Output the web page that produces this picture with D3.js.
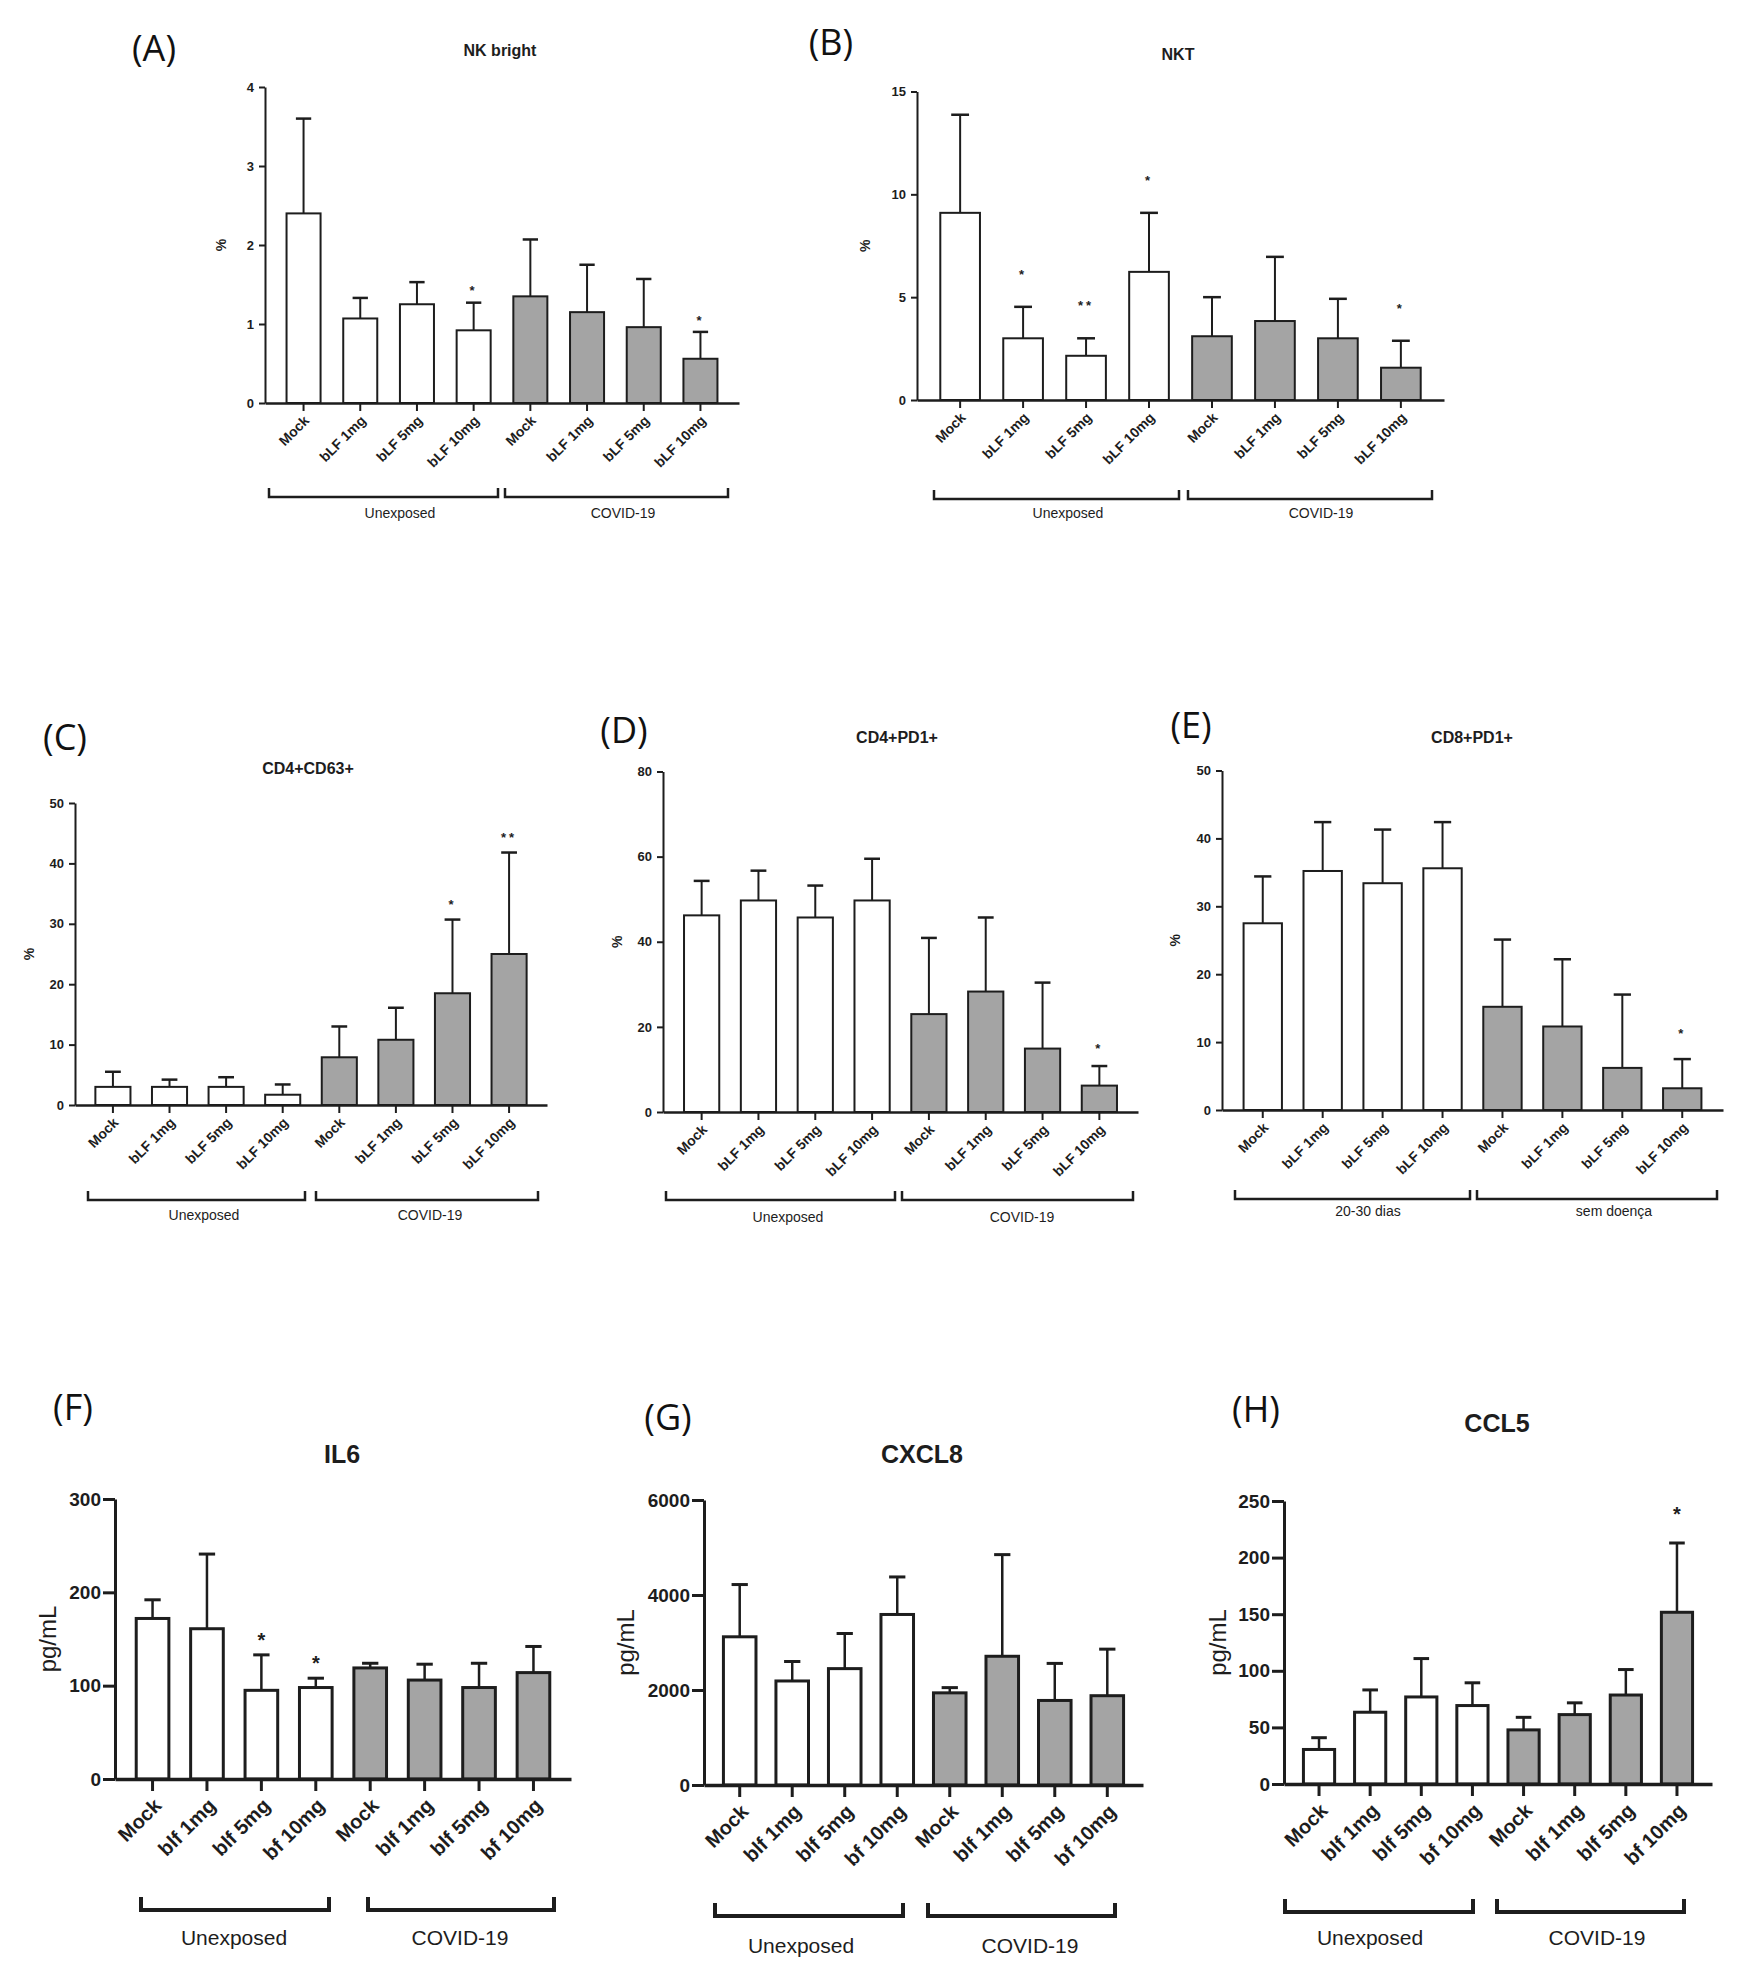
<!DOCTYPE html>
<html>
<head>
<meta charset="utf-8">
<script src="https://cdn.jsdelivr.net/npm/d3@7"></script>
<style>
  html, body { margin: 0; padding: 0; background: #fff; }
  svg { display: block; }
</style>
</head>
<body>
<div id="fig"></div>
<script>
/* bLF / lactoferrin panels: 8 bars each, first 4 unexposed (white), last 4 COVID-19 (grey) */

// ---- categories ----
var treatLF  = ["Mock", "bLF 1mg", "bLF 5mg", "bLF 10mg", "Mock", "bLF 1mg", "bLF 5mg", "bLF 10mg"];
var treatCyt = ["Mock", "blf 1mg", "blf 5mg", "bf 10mg", "Mock", "blf 1mg", "blf 5mg", "bf 10mg"];
var groupsCovid = ["Unexposed", "COVID-19"];
var groupsDias  = ["20-30 dias", "sem doença"];

// ---- values (mean, upper error, significance) ----
var nkBrightMean = [2.40, 1.07, 1.25, 0.92, 1.35, 1.15, 0.96, 0.56];
var nkBrightErr  = [1.20, 0.26, 0.28, 0.35, 0.72, 0.60, 0.61, 0.34];
var nkBrightSig  = ["", "", "", "*", "", "", "", "*"];
var nkBrightTicks = [0, 1, 2, 3, 4];

var nktMean = [9.10, 3.00, 2.15, 6.23, 3.10, 3.84, 3.00, 1.57];
var nktErr  = [4.77, 1.53, 0.85, 2.87, 1.90, 3.12, 1.92, 1.31];
var nktSig  = ["", "*", "**", "*", "", "", "", "*"];
var nktTicks = [0, 5, 10, 15];

var cd63Mean = [3.0, 3.0, 3.0, 1.7, 7.9, 10.8, 18.5, 25.0];
var cd63Err  = [2.5, 1.2, 1.6, 1.7, 5.1, 5.3, 12.2, 16.8];
var cd63Sig  = ["", "", "", "", "", "", "*", "**"];
var cd63Ticks = [0, 10, 20, 30, 40, 50];

var cd4pd1Mean = [46.2, 49.7, 45.7, 49.7, 23.0, 28.3, 14.9, 6.2];
var cd4pd1Err  = [8.1, 7.0, 7.5, 9.8, 17.9, 17.4, 15.5, 4.6];
var cd4pd1Sig  = ["", "", "", "", "", "", "", "*"];
var cd4pd1Ticks = [0, 20, 40, 60, 80];

var cd8pd1Mean = [27.5, 35.2, 33.4, 35.6, 15.2, 12.3, 6.2, 3.2];
var cd8pd1Err  = [6.9, 7.2, 7.9, 6.8, 9.9, 9.9, 10.8, 4.3];
var cd8pd1Sig  = ["", "", "", "", "", "", "", "*"];
var cd8pd1Ticks = [0, 10, 20, 30, 40, 50];

var il6Mean = [172, 161, 95, 98, 119, 106, 98, 114];
var il6Err  = [20, 80, 38, 10, 5, 17, 26, 28];
var il6Sig  = ["", "", "*", "*", "", "", "", ""];
var il6Ticks = [0, 100, 200, 300];

var cxcl8Mean = [3120, 2190, 2450, 3590, 1940, 2710, 1780, 1880];
var cxcl8Err  = [1100, 410, 740, 790, 110, 2140, 780, 980];
var cxcl8Sig  = ["", "", "", "", "", "", "", ""];
var cxcl8Ticks = [0, 2000, 4000, 6000];

var ccl5Mean = [30.5, 63.4, 76.9, 69.3, 47.8, 61.3, 78.6, 151.7];
var ccl5Err  = [10.4, 19.7, 33.9, 20.1, 11.1, 10.4, 22.5, 61.2];
var ccl5Sig  = ["", "", "", "", "", "", "", "*"];
var ccl5Ticks = [0, 50, 100, 150, 200, 250];

// ---- drawing ----
var W = 1737, H = 1973;
var INK = "#1d1d1d", GRAY = "#a4a4a4";
var SANS = "'Liberation Sans', Arial, sans-serif";
var HUMAN = "'Open Sans', 'Noto Sans', sans-serif";

var STYLE = {
  small: { tick: 13, xlab: 14, title: 16, group: 14, ylab: 14, sw: 2, aw: 2, xTick: 8, yTick: 6, yPad: 5,
           star: 13, bw: 2.5, bTick: 9, lab: [3, 15], cap: 0.45, ew: 2 },
  large: { tick: 19, xlab: 20, title: 25, group: 21, ylab: 24, sw: 3, aw: 3, xTick: 12, yTick: 12, yPad: 2,
           star: 20, bw: 4, bTick: 13, lab: [5, 23], cap: 0.5, ew: 2.5 }
};

var svg = d3.select("#fig").append("svg")
  .attr("width", W).attr("height", H)
  .attr("viewBox", "0 0 " + W + " " + H);

function drawPanel(p) {
  var s = STYLE[p.style];
  var g = svg.append("g");

  var x = d3.scaleBand().domain(d3.range(p.mean.length))
    .range([p.x0, p.x1]).paddingInner(p.pi).paddingOuter(p.po);
  var y = d3.scaleLinear().domain([0, d3.max(p.ticks)]).range([p.y0, p.yTop]);
  var bw = x.bandwidth();
  var cx = function (i) { return x(i) + bw / 2; };

  // error bars (upper only)
  var eb = g.append("g").attr("stroke", INK).attr("stroke-width", s.ew).attr("fill", "none");
  p.mean.forEach(function (m, i) {
    var top = y(m + p.err[i]);
    eb.append("line").attr("x1", cx(i)).attr("x2", cx(i)).attr("y1", y(m)).attr("y2", top);
    eb.append("line").attr("x1", cx(i) - bw * s.cap / 2).attr("x2", cx(i) + bw * s.cap / 2)
      .attr("y1", top).attr("y2", top).attr("stroke-width", s.ew + 0.5);
  });

  // bars
  g.selectAll("rect.bar").data(p.mean).enter().append("rect")
    .attr("class", "bar")
    .attr("x", function (d, i) { return x(i); })
    .attr("width", bw)
    .attr("y", function (d) { return y(d); })
    .attr("height", function (d) { return y(0) - y(d); })
    .attr("fill", function (d, i) { return i < 4 ? "#fff" : GRAY; })
    .attr("stroke", INK).attr("stroke-width", s.sw);

  // significance marks
  g.selectAll("text.sig").data(p.sig).enter().append("text")
    .attr("class", "sig")
    .attr("x", function (d, i) { return cx(i); })
    .attr("y", function (d, i) { return y(p.mean[i] + p.err[i]) - p.starOff; })
    .attr("dy", "0.75em")
    .attr("text-anchor", "middle")
    .attr("font-family", SANS).attr("font-weight", "bold").attr("font-size", s.star)
    .attr("letter-spacing", p.style === "small" ? 3 : 0)
    .attr("fill", INK)
    .text(function (d) { return d; });

  // y axis
  var ya = g.append("g").attr("transform", "translate(" + p.x0 + ",0)")
    .call(d3.axisLeft(y).tickValues(p.ticks).tickFormat(d3.format("d"))
      .tickSize(s.yTick).tickSizeOuter(0).tickPadding(s.yPad));
  ya.select(".domain").attr("stroke", INK).attr("stroke-width", s.aw);
  ya.selectAll(".tick line").attr("stroke", INK).attr("stroke-width", s.aw);
  ya.selectAll(".tick text").attr("fill", INK).attr("font-family", SANS)
    .attr("font-weight", "bold").attr("font-size", s.tick);

  // x axis with rotated labels
  var xa = g.append("g").attr("transform", "translate(0," + p.y0 + ")")
    .call(d3.axisBottom(x).tickSize(s.xTick).tickSizeOuter(0)
      .tickFormat(function (i) { return p.labels[i]; }));
  xa.select(".domain").attr("stroke", INK).attr("stroke-width", s.aw + 0.5);
  xa.selectAll(".tick line").attr("stroke", INK).attr("stroke-width", s.aw);
  xa.selectAll(".tick text")
    .attr("x", 0).attr("y", 0).attr("dy", "0.35em")
    .attr("text-anchor", "end")
    .attr("transform", "translate(" + s.lab[0] + "," + s.lab[1] + ") rotate(-45)")
    .attr("fill", INK).attr("font-family", SANS).attr("font-weight", "bold").attr("font-size", s.xlab);

  // y label
  g.append("text")
    .attr("transform", "translate(" + p.yLabelX + "," + ((p.y0 + p.yTop) / 2) + ") rotate(-90)")
    .attr("text-anchor", "middle").attr("dy", "0.35em")
    .attr("font-family", SANS).attr("font-size", s.ylab)
    .attr("font-weight", p.style === "small" ? "bold" : "normal")
    .attr("fill", INK).text(p.yLabel);

  // title + panel letter
  g.append("text").attr("x", p.titleX).attr("y", p.titleY).attr("dy", "0.35em")
    .attr("text-anchor", "middle").attr("font-family", SANS).attr("font-weight", "bold")
    .attr("font-size", s.title).attr("fill", INK).text(p.title);
  g.append("text").attr("x", p.letterX).attr("y", p.letterY).attr("dy", "0.35em")
    .attr("text-anchor", "middle").attr("font-family", HUMAN)
    .attr("font-size", 36).attr("fill", "#111").text(p.letter);

  // group brackets
  p.brackets.forEach(function (b, k) {
    g.append("path")
      .attr("d", "M" + b[0] + "," + (p.bracketY - s.bTick) + "V" + p.bracketY + "H" + b[1] + "V" + (p.bracketY - s.bTick))
      .attr("fill", "none").attr("stroke", INK).attr("stroke-width", s.bw);
    g.append("text").attr("x", p.groupX[k]).attr("y", p.groupY).attr("dy", "0.35em")
      .attr("text-anchor", "middle").attr("font-family", SANS).attr("font-size", s.group)
      .attr("fill", INK).text(p.groups[k]);
  });
}

var panels = [
  { letter: "(A)", title: "NK bright", style: "small", labels: treatLF, groups: groupsCovid,
    mean: nkBrightMean, err: nkBrightErr, sig: nkBrightSig, ticks: nkBrightTicks, yLabel: "%",
    x0: 265, x1: 739, y0: 403, yTop: 87, pi: 0.4, po: 0.38, yLabelX: 221, starOff: 17,
    titleX: 500, titleY: 50, letterX: 154, letterY: 48,
    brackets: [[269, 498], [505, 728]], bracketY: 497, groupX: [400, 623], groupY: 513 },
  { letter: "(B)", title: "NKT", style: "small", labels: treatLF, groups: groupsCovid,
    mean: nktMean, err: nktErr, sig: nktSig, ticks: nktTicks, yLabel: "%",
    x0: 917, x1: 1444, y0: 400, yTop: 91.5, pi: 0.37, po: 0.37, yLabelX: 865, starOff: 38,
    titleX: 1178, titleY: 54, letterX: 831, letterY: 42,
    brackets: [[934, 1179], [1188, 1432]], bracketY: 499, groupX: [1068, 1321], groupY: 513 },
  { letter: "(C)", title: "CD4+CD63+", style: "small", labels: treatLF, groups: groupsCovid,
    mean: cd63Mean, err: cd63Err, sig: cd63Sig, ticks: cd63Ticks, yLabel: "%",
    x0: 75, x1: 547, y0: 1105, yTop: 803, pi: 0.38, po: 0.36, yLabelX: 29, starOff: 20,
    titleX: 308, titleY: 768, letterX: 65, letterY: 737,
    brackets: [[88, 305], [316, 538]], bracketY: 1200, groupX: [204, 430], groupY: 1215 },
  { letter: "(D)", title: "CD4+PD1+", style: "small", labels: treatLF, groups: groupsCovid,
    mean: cd4pd1Mean, err: cd4pd1Err, sig: cd4pd1Sig, ticks: cd4pd1Ticks, yLabel: "%",
    x0: 663, x1: 1138, y0: 1112, yTop: 771.5, pi: 0.38, po: 0.37, yLabelX: 617, starOff: 23,
    titleX: 897, titleY: 737, letterX: 624, letterY: 730,
    brackets: [[666, 895], [902, 1133]], bracketY: 1200, groupX: [788, 1022], groupY: 1217 },
  { letter: "(E)", title: "CD8+PD1+", style: "small", labels: treatLF, groups: groupsDias,
    mean: cd8pd1Mean, err: cd8pd1Err, sig: cd8pd1Sig, ticks: cd8pd1Ticks, yLabel: "%",
    x0: 1222, x1: 1723, y0: 1110, yTop: 770.5, pi: 0.36, po: 0.36, yLabelX: 1175, starOff: 31,
    titleX: 1472, titleY: 737, letterX: 1191, letterY: 725,
    brackets: [[1235, 1470], [1477, 1717]], bracketY: 1199, groupX: [1368, 1614], groupY: 1211 },
  { letter: "(F)", title: "IL6", style: "large", labels: treatCyt, groups: groupsCovid,
    mean: il6Mean, err: il6Err, sig: il6Sig, ticks: il6Ticks, yLabel: "pg/mL",
    x0: 115, x1: 571, y0: 1779, yTop: 1499, pi: 0.4, po: 0.39, yLabelX: 48, starOff: 23,
    titleX: 342, titleY: 1454, letterX: 73, letterY: 1407,
    brackets: [[141, 329], [368, 554]], bracketY: 1910, groupX: [234, 460], groupY: 1938 },
  { letter: "(G)", title: "CXCL8", style: "large", labels: treatCyt, groups: groupsCovid,
    mean: cxcl8Mean, err: cxcl8Err, sig: cxcl8Sig, ticks: cxcl8Ticks, yLabel: "pg/mL",
    x0: 704, x1: 1143, y0: 1785, yTop: 1500, pi: 0.38, po: 0.37, yLabelX: 626, starOff: 23,
    titleX: 922, titleY: 1454, letterX: 668, letterY: 1417,
    brackets: [[715, 903], [928, 1115]], bracketY: 1916, groupX: [801, 1030], groupY: 1946 },
  { letter: "(H)", title: "CCL5", style: "large", labels: treatCyt, groups: groupsCovid,
    mean: ccl5Mean, err: ccl5Err, sig: ccl5Sig, ticks: ccl5Ticks, yLabel: "pg/mL",
    x0: 1284, x1: 1712, y0: 1784, yTop: 1501, pi: 0.39, po: 0.38, yLabelX: 1218, starOff: 37,
    titleX: 1497, titleY: 1423, letterX: 1256, letterY: 1409,
    brackets: [[1285, 1473], [1497, 1684]], bracketY: 1912, groupX: [1370, 1597], groupY: 1938 }
];

panels.forEach(drawPanel);
</script>
</body>
</html>
